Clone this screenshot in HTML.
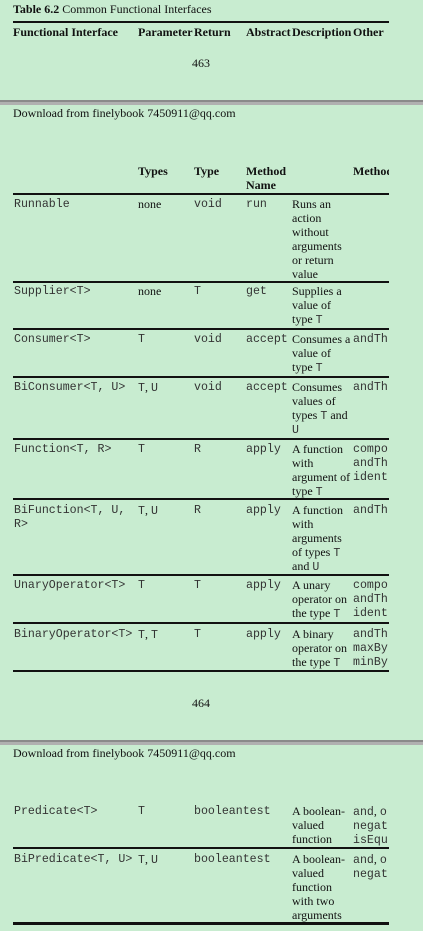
<!DOCTYPE html>
<html><head><meta charset="utf-8"><style>
body{margin:0;width:423px;height:931px;background:#c8ecd0;position:relative;overflow:hidden;font-family:"Liberation Serif",serif;font-size:12px;color:#111}
.a{position:absolute;line-height:14px;white-space:nowrap}
.m{font-family:"Liberation Mono",monospace;font-size:11.6px;color:#333;margin-top:1px}
.b{font-weight:bold}
.r{position:absolute;left:13px;width:376px;height:2px;background:#111}
.band{position:absolute;left:0;width:423px;height:5px;background:linear-gradient(#8a8a8a 0,#8a8a8a 2px,#b0b0b0 2px,#b0b0b0 5px)}
.o{position:absolute;left:353px;width:35px;overflow:hidden;line-height:14px;white-space:nowrap}
.o2{position:absolute;left:353px;width:36px;overflow:hidden;line-height:14px;white-space:nowrap}
code{font-family:"Liberation Mono",monospace;font-size:11.6px;color:#333;line-height:0}
</style></head><body>
<div class="a" style="left:13px;top:2px"><b>Table 6.2</b> Common Functional Interfaces</div>
<div class="r" style="top:21px"></div>
<div class="a b" style="left:13px;top:25px">Functional Interface</div>
<div class="a b" style="left:138px;top:25px">Parameter</div>
<div class="a b" style="left:194px;top:25px">Return</div>
<div class="a b" style="left:246px;top:25px">Abstract</div>
<div class="a b" style="left:292px;top:25px">Description</div>
<div class="a b" style="left:353px;top:25px">Other</div>
<div class="a" style="left:192px;top:56px">463</div>
<div class="band" style="top:100px"></div>
<div class="a" style="left:13px;top:106px">Download from finelybook 7450911@qq.com</div>

<div class="a b" style="left:138px;top:164px">Types</div>
<div class="a b" style="left:194px;top:164px">Type</div>
<div class="a b" style="left:246px;top:164px">Method<br>Name</div>
<div class="o2 b" style="top:164px">Methods</div>
<div class="r" style="top:193px"></div>

<div class="a m" style="left:14px;top:197px">Runnable</div>
<div class="a" style="left:138px;top:197px">none</div>
<div class="a m" style="left:194px;top:197px">void</div>
<div class="a m" style="left:246px;top:197px">run</div>
<div class="a" style="left:292px;top:197px">Runs an<br>action<br>without<br>arguments<br>or return<br>value</div>
<div class="r" style="top:281px"></div>

<div class="a m" style="left:14px;top:284px">Supplier&lt;T&gt;</div>
<div class="a" style="left:138px;top:284px">none</div>
<div class="a m" style="left:194px;top:284px">T</div>
<div class="a m" style="left:246px;top:284px">get</div>
<div class="a" style="left:292px;top:284px">Supplies a<br>value of<br>type <code>T</code></div>
<div class="r" style="top:328px"></div>

<div class="a m" style="left:14px;top:332px">Consumer&lt;T&gt;</div>
<div class="a m" style="left:138px;top:332px">T</div>
<div class="a m" style="left:194px;top:332px">void</div>
<div class="a m" style="left:246px;top:332px">accept</div>
<div class="a" style="left:292px;top:332px">Consumes a<br>value of<br>type <code>T</code></div>
<div class="o m" style="top:332px">andThen</div>
<div class="r" style="top:376px"></div>

<div class="a m" style="left:14px;top:380px">BiConsumer&lt;T, U&gt;</div>
<div class="a" style="left:138px;top:380px"><code>T</code>, <code>U</code></div>
<div class="a m" style="left:194px;top:380px">void</div>
<div class="a m" style="left:246px;top:380px">accept</div>
<div class="a" style="left:292px;top:380px">Consumes<br>values of<br>types <code>T</code> and<br><code>U</code></div>
<div class="o m" style="top:380px">andThen</div>
<div class="r" style="top:438px"></div>

<div class="a m" style="left:14px;top:442px">Function&lt;T, R&gt;</div>
<div class="a m" style="left:138px;top:442px">T</div>
<div class="a m" style="left:194px;top:442px">R</div>
<div class="a m" style="left:246px;top:442px">apply</div>
<div class="a" style="left:292px;top:442px">A function<br>with<br>argument of<br>type <code>T</code></div>
<div class="o m" style="top:442px">compose<br>andThen<br>identity</div>
<div class="r" style="top:498px"></div>

<div class="a m" style="left:14px;top:503px">BiFunction&lt;T, U,<br>R&gt;</div>
<div class="a" style="left:138px;top:503px"><code>T</code>, <code>U</code></div>
<div class="a m" style="left:194px;top:503px">R</div>
<div class="a m" style="left:246px;top:503px">apply</div>
<div class="a" style="left:292px;top:503px">A function<br>with<br>arguments<br>of types <code>T</code><br>and <code>U</code></div>
<div class="o m" style="top:503px">andThen</div>
<div class="r" style="top:574px"></div>

<div class="a m" style="left:14px;top:578px">UnaryOperator&lt;T&gt;</div>
<div class="a m" style="left:138px;top:578px">T</div>
<div class="a m" style="left:194px;top:578px">T</div>
<div class="a m" style="left:246px;top:578px">apply</div>
<div class="a" style="left:292px;top:578px">A unary<br>operator on<br>the type <code>T</code></div>
<div class="o m" style="top:578px">compose<br>andThen<br>identity</div>
<div class="r" style="top:622px"></div>

<div class="a m" style="left:14px;top:627px">BinaryOperator&lt;T&gt;</div>
<div class="a" style="left:138px;top:627px"><code>T</code>, <code>T</code></div>
<div class="a m" style="left:194px;top:627px">T</div>
<div class="a m" style="left:246px;top:627px">apply</div>
<div class="a" style="left:292px;top:627px">A binary<br>operator on<br>the type <code>T</code></div>
<div class="o m" style="top:627px">andThen<br>maxBy<br>minBy</div>
<div class="r" style="top:670px"></div>

<div class="a" style="left:192px;top:696px">464</div>
<div class="band" style="top:740px"></div>
<div class="a" style="left:13px;top:746px">Download from finelybook 7450911@qq.com</div>

<div class="a m" style="left:14px;top:804px">Predicate&lt;T&gt;</div>
<div class="a m" style="left:138px;top:804px">T</div>
<div class="a m" style="left:194px;top:804px">booleantest</div>
<div class="a" style="left:292px;top:804px">A boolean-<br>valued<br>function</div>
<div class="o" style="top:804px"><code>and</code>, <code>or</code><br><code>negate</code><br><code>isEqual</code></div>
<div class="r" style="top:847px"></div>

<div class="a m" style="left:14px;top:852px">BiPredicate&lt;T, U&gt;</div>
<div class="a" style="left:138px;top:852px"><code>T</code>, <code>U</code></div>
<div class="a m" style="left:194px;top:852px">booleantest</div>
<div class="a" style="left:292px;top:852px">A boolean-<br>valued<br>function<br>with two<br>arguments</div>
<div class="o" style="top:852px"><code>and</code>, <code>or</code><br><code>negate</code></div>
<div class="r" style="top:922px;height:3px"></div>
</body></html>
